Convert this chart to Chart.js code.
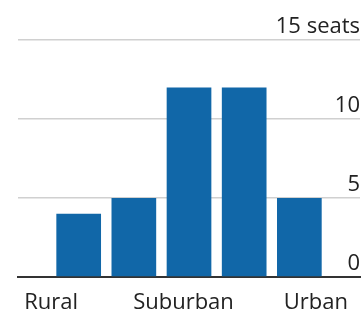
<!DOCTYPE html>
<html>
<head>
<meta charset="utf-8">
<script src="https://cdn.jsdelivr.net/npm/chart.js@4"></script>
<style>
  html, body { margin: 0; padding: 0; background: #fff; }
  #wrap { width: 361px; height: 312px; }
</style>
</head>
<body>
<div id="wrap"><canvas id="chartCanvas"></canvas></div>
<script>
// seats per bin, rural -> urban
const groupLabels = ['Rural', 'Suburban', 'Urban'];
const seats = [4, 5, 12, 12, 5];
const yTicks = [0, 5, 10, 15];
const yUnit = 'seats';

// where the three group labels sit along the bin axis
const labelAt = [-0.5, 1.9, 4.3];

const font = { family: "'Open Sans', 'Noto Sans', sans-serif", size: 22 };

new Chart(document.getElementById('chartCanvas'), {
    type: 'bar',
    data: {
        datasets: [{
            data: seats.map((v, i) => ({ x: i, y: v })),
            backgroundColor: '#1167a8',
            borderWidth: 0,
            barPercentage: 0.81,
            categoryPercentage: 1
        }]
    },
    options: {
        responsive: true,
        maintainAspectRatio: false,
        animation: false,
        layout: { padding: { left: 18, top: 40, right: 0, bottom: 0 } },
        plugins: { legend: { display: false }, tooltip: { enabled: false } },
        scales: {
            x: {
                type: 'linear',
                offset: false,
                min: -1.1,
                max: 5.1,
                afterBuildTicks: axis => {
                    axis.ticks = labelAt.map(v => ({ value: v }));
                },
                // keep the baseline at the same height whatever the label padding
                afterFit: axis => { axis.height = 35; },
                grid: { display: false, drawTicks: false, offset: false },
                border: { display: true, color: '#333', width: 2 },
                ticks: {
                    autoSkip: false,
                    maxRotation: 0,
                    padding: 13,
                    color: '#222',
                    font: font,
                    callback: (v, i) => groupLabels[i]
                }
            },
            y: {
                position: 'right',
                min: 0,
                max: 15,
                afterBuildTicks: axis => {
                    axis.ticks = yTicks.map(v => ({ value: v }));
                },
                border: { display: false },
                grid: {
                    drawTicks: false,
                    lineWidth: 1.5,
                    color: ctx => ctx.tick && ctx.tick.value === 0 ? 'rgba(0,0,0,0)' : '#d0d0d0'
                },
                ticks: {
                    mirror: true,
                    padding: 0,
                    labelOffset: -13,
                    color: '#222',
                    font: font,
                    callback: v => v === 15 ? v + ' ' + yUnit : v
                }
            }
        }
    }
});
</script>
</body>
</html>
